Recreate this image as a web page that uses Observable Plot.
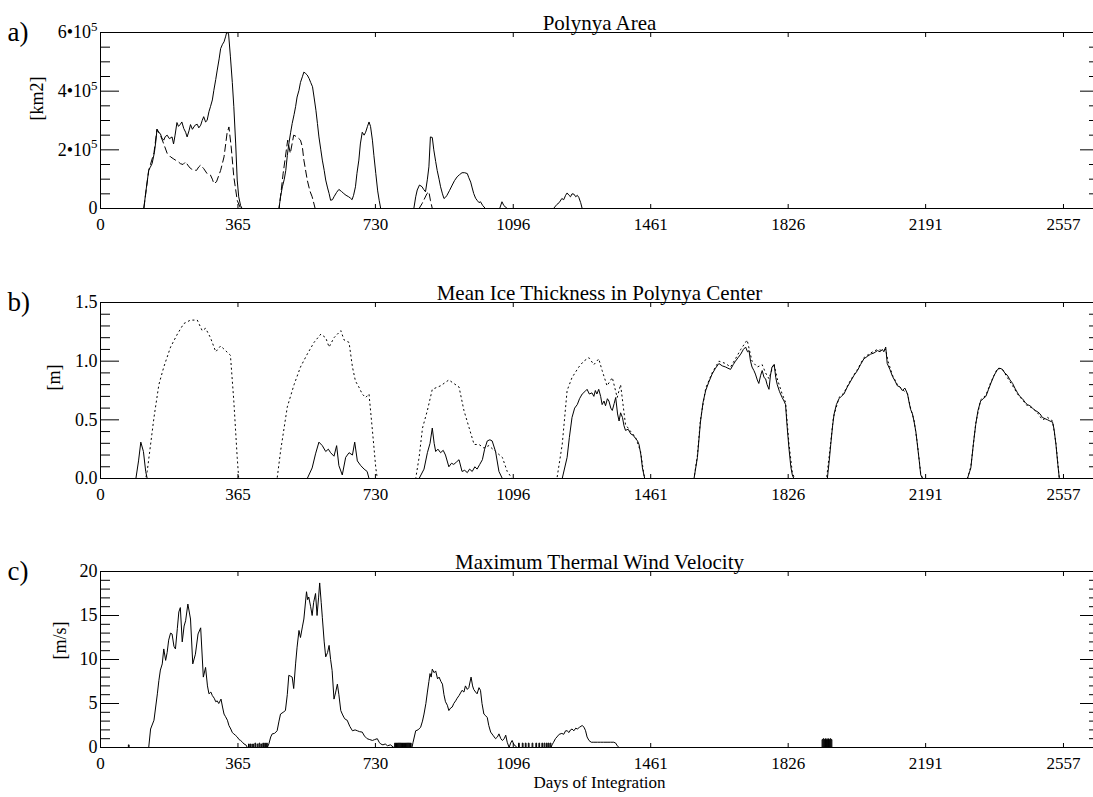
<!DOCTYPE html>
<html><head><meta charset="utf-8">
<script src="https://cdn.jsdelivr.net/npm/d3@7"></script>
<script src="https://cdn.jsdelivr.net/npm/@observablehq/plot@0.6"></script>
<style>
html,body{margin:0;padding:0;background:#fff;overflow:hidden;}
#chart{position:relative;width:1093px;height:797px;background:#fff;}
#chart svg{position:absolute;left:0;}
</style></head><body><div id="chart"></div>
<script>
// ---------- shared axis values ----------
const xTicks = [0, 365, 730, 1096, 1461, 1826, 2191, 2557];
const xLabel = "Days of Integration";

// ---------- panel a: Polynya Area (units of 10^5 km2) ----------
const titleA = "Polynya Area";
const letterA = "a)";
const yLabelA = "[km2]";
const yTicksA = [0, 2, 4, 6];
const yTickLabelsA = ["0", "2•10⁵", "4•10⁵", "6•10⁵"];
const yMinorA = [0.5, 1, 1.5, 2.5, 3, 3.5, 4.5, 5, 5.5];
const areaSolid = [[0,0],[115,0],[121,0.63],[128,1.3],[132,1.4],[137,1.53],[143,1.9],[147,2.3],[150,2.7],[154,2.6],[159,2.55],[163,2.4],[168,2.33],[172,2.45],[177,2.5],[183,2.38],[190,2.44],[194,2.2],[198,2.5],[203,2.93],[207,2.8],[212,2.87],[216,2.95],[221,2.73],[226,2.6],[230,2.44],[235,2.65],[239,2.86],[244,2.7],[248,2.78],[252,2.85],[257,2.87],[261,2.75],[266,2.84],[270,3.0],[274,3.13],[279,2.95],[283,3.0],[288,3.3],[292,3.47],[297,3.7],[301,4.03],[306,4.4],[310,4.72],[315,5.1],[319,5.45],[324,5.6],[328,5.68],[332,5.85],[335,6.0],[340,5.97],[345,5.17],[350,4.3],[354,3.47],[359,2.2],[363,0.97],[367,0.4],[372,0.1],[376,0],[474,0],[478,0.4],[483,0.74],[488,1.0],[492,1.3],[496,1.8],[500,2.2],[505,2.6],[509,2.9],[514,3.2],[518,3.47],[522,3.8],[527,4.03],[531,4.3],[536,4.49],[540,4.65],[545,4.6],[549,4.55],[554,4.43],[558,4.3],[563,4.15],[567,3.8],[572,3.35],[576,2.9],[580,2.44],[585,2.0],[589,1.65],[594,1.3],[598,0.97],[603,0.7],[607,0.51],[611,0.28],[616,0.3],[620,0.4],[627,0.55],[633,0.65],[640,0.58],[646,0.51],[652,0.45],[659,0.4],[664,0.35],[668,0.3],[672,0.45],[677,0.74],[681,1.2],[686,1.65],[690,2.2],[695,2.6],[700,2.5],[704,2.6],[709,2.8],[713,2.95],[717,2.8],[722,2.33],[726,1.8],[731,1.19],[736,0.6],[740,0.28],[744,0],[832,0],[837,0.4],[841,0.63],[847,0.8],[854,0.74],[858,0.65],[863,0.57],[868,1.0],[872,1.42],[876,2.44],[881,2.42],[885,2.0],[890,1.6],[894,1.3],[899,1.0],[903,0.74],[908,0.5],[912,0.34],[916,0.38],[920,0.45],[927,0.62],[934,0.8],[940,0.95],[947,1.08],[953,1.15],[960,1.22],[967,1.22],[974,1.19],[978,1.05],[983,0.9],[987,0.7],[991,0.51],[996,0.35],[1000,0.28],[1005,0.2],[1009,0.23],[1015,0.1],[1022,0],[1060,0],[1066,0.23],[1071,0.1],[1080,0],[1203,0],[1212,0.14],[1218,0.2],[1225,0.34],[1230,0.3],[1235,0.45],[1239,0.53],[1244,0.45],[1248,0.4],[1252,0.5],[1257,0.49],[1262,0.4],[1266,0.45],[1270,0.38],[1275,0.2],[1279,0],[2557,0]];
const areaDashed = [[0,0],[115,0],[121,0.6],[128,1.3],[142,1.9],[150,2.7],[159,2.5],[168,2.2],[177,1.88],[186,1.76],[193,1.7],[199,1.65],[206,1.6],[212,1.53],[219,1.5],[226,1.59],[235,1.42],[241,1.35],[248,1.31],[255,1.3],[261,1.42],[266,1.48],[274,1.36],[283,1.19],[292,1.14],[297,1.0],[301,0.85],[308,0.91],[319,1.3],[328,1.76],[336,2.56],[341,2.78],[347,2.1],[354,1.08],[363,0.28],[372,0],[474,0],[478,0.4],[485,1.2],[491,1.76],[497,2.33],[504,1.88],[513,2.5],[522,2.44],[531,2.33],[536,2.1],[540,1.65],[549,0.97],[556,0.6],[562,0.4],[570,0],[846,0],[854,0.17],[867,0.51],[872,0.57],[876,0.28],[881,0],[2557,0]];

// ---------- panel b: Mean Ice Thickness (m) ----------
const titleB = "Mean Ice Thickness in Polynya Center";
const letterB = "b)";
const yLabelB = "[m]";
const yTicksB = [0, 0.5, 1.0, 1.5];
const yTickLabelsB = ["0.0", "0.5", "1.0", "1.5"];
const yMinorB = [0.1, 0.2, 0.3, 0.4, 0.6, 0.7, 0.8, 0.9, 1.1, 1.2, 1.3, 1.4];
const iceSolid = [[0,0],[94,0],[101,0.15],[107,0.31],[114,0.23],[120,0.06],[124,0],[549,0],[562,0.09],[571,0.21],[580,0.31],[589,0.28],[598,0.23],[605,0.25],[611,0.22],[620,0.19],[627,0.28],[633,0.11],[642,0.03],[651,0.18],[660,0.22],[669,0.2],[675,0.31],[682,0.15],[691,0.11],[700,0.08],[708,0.06],[713,0],[846,0],[859,0.08],[868,0.22],[875,0.3],[881,0.43],[886,0.3],[890,0.23],[896,0.25],[903,0.22],[910,0.24],[916,0.2],[925,0.1],[932,0.13],[938,0.12],[945,0.14],[952,0.16],[960,0.06],[967,0.07],[974,0.05],[980,0.08],[987,0.06],[994,0.1],[1000,0.08],[1007,0.12],[1014,0.16],[1020,0.25],[1027,0.32],[1034,0.33],[1040,0.32],[1049,0.23],[1058,0.06],[1067,0],[1226,0],[1239,0.18],[1245,0.35],[1252,0.52],[1259,0.6],[1266,0.63],[1272,0.68],[1279,0.72],[1286,0.74],[1292,0.76],[1298,0.72],[1305,0.73],[1310,0.7],[1314,0.75],[1318,0.72],[1323,0.76],[1328,0.7],[1332,0.63],[1337,0.66],[1341,0.62],[1346,0.68],[1350,0.66],[1355,0.6],[1359,0.58],[1364,0.64],[1368,0.69],[1373,0.55],[1377,0.49],[1381,0.56],[1386,0.52],[1390,0.45],[1394,0.41],[1401,0.42],[1408,0.38],[1414,0.37],[1421,0.34],[1426,0.32],[1430,0.29],[1435,0.2],[1439,0.09],[1445,0],[1576,0],[1585,0.18],[1593,0.48],[1600,0.65],[1607,0.75],[1615,0.82],[1624,0.89],[1633,0.94],[1642,0.98],[1651,0.96],[1660,0.95],[1666,0.94],[1673,0.93],[1680,0.97],[1686,1.0],[1693,1.03],[1700,1.06],[1707,1.1],[1713,1.12],[1718,1.08],[1722,1.09],[1726,1.0],[1730,0.95],[1735,0.92],[1739,0.89],[1744,0.84],[1748,0.81],[1753,0.88],[1757,0.92],[1762,0.86],[1766,0.85],[1770,0.8],[1775,0.76],[1779,0.88],[1783,0.95],[1789,0.97],[1793,0.86],[1797,0.8],[1803,0.74],[1810,0.69],[1815,0.66],[1819,0.63],[1823,0.45],[1828,0.26],[1833,0.1],[1837,0.03],[1841,0],[1930,0],[1935,0.15],[1939,0.29],[1944,0.45],[1948,0.55],[1954,0.63],[1961,0.68],[1967,0.7],[1974,0.72],[1983,0.78],[1992,0.83],[2001,0.88],[2010,0.92],[2018,0.97],[2027,1.02],[2036,1.04],[2045,1.06],[2054,1.07],[2063,1.09],[2070,1.08],[2076,1.1],[2080,1.08],[2085,1.12],[2089,0.98],[2096,0.93],[2103,0.87],[2110,0.83],[2116,0.79],[2123,0.78],[2129,0.75],[2136,0.77],[2143,0.72],[2147,0.65],[2151,0.59],[2156,0.55],[2160,0.49],[2165,0.4],[2169,0.29],[2174,0.15],[2178,0.03],[2183,0],[2302,0],[2311,0.09],[2318,0.3],[2324,0.46],[2330,0.58],[2337,0.66],[2344,0.68],[2351,0.7],[2358,0.76],[2364,0.81],[2373,0.88],[2382,0.93],[2388,0.94],[2395,0.93],[2401,0.9],[2408,0.88],[2415,0.84],[2422,0.81],[2428,0.77],[2435,0.73],[2441,0.7],[2448,0.68],[2455,0.65],[2461,0.63],[2468,0.62],[2475,0.6],[2481,0.58],[2488,0.57],[2495,0.55],[2501,0.52],[2508,0.51],[2515,0.5],[2521,0.49],[2528,0.48],[2532,0.42],[2537,0.29],[2542,0.12],[2546,0],[2557,0]];
const iceDotted = [[0,0],[120,0],[124,0.06],[133,0.29],[142,0.52],[155,0.8],[168,0.95],[186,1.12],[204,1.23],[221,1.32],[239,1.35],[257,1.35],[270,1.26],[279,1.28],[292,1.2],[306,1.08],[319,1.13],[332,1.09],[345,1.05],[354,0.66],[363,0.18],[367,0],[469,0],[478,0.23],[496,0.61],[514,0.8],[531,0.95],[549,1.06],[567,1.16],[585,1.23],[598,1.2],[607,1.12],[620,1.2],[638,1.26],[647,1.18],[660,1.16],[669,0.95],[677,0.83],[686,0.78],[695,0.72],[704,0.69],[713,0.72],[722,0.41],[731,0.09],[735,0],[837,0],[846,0.18],[855,0.43],[868,0.58],[881,0.76],[903,0.79],[925,0.84],[938,0.81],[952,0.78],[965,0.58],[979,0.43],[992,0.29],[1005,0.29],[1018,0.26],[1031,0.28],[1049,0.23],[1067,0.18],[1080,0.06],[1093,0],[1212,0],[1226,0.29],[1239,0.75],[1252,0.86],[1270,0.95],[1283,1.0],[1297,1.03],[1310,0.97],[1323,1.02],[1332,0.92],[1345,0.79],[1359,0.86],[1372,0.69],[1381,0.8],[1394,0.46],[1408,0.4],[1421,0.35],[1434,0.23],[1443,0.03],[1447,0],[1576,0],[1585,0.2],[1593,0.5],[1607,0.77],[1624,0.9],[1642,1.0],[1660,0.98],[1673,0.95],[1686,1.02],[1700,1.1],[1717,1.18],[1730,1.0],[1744,0.95],[1757,0.97],[1766,0.9],[1775,0.85],[1788,0.98],[1797,0.85],[1810,0.72],[1819,0.65],[1828,0.3],[1837,0.05],[1843,0],[1928,0],[1937,0.25],[1946,0.52],[1961,0.69],[1974,0.73],[1992,0.84],[2010,0.93],[2027,1.03],[2045,1.07],[2063,1.1],[2076,1.09],[2085,1.1],[2091,1.0],[2103,0.88],[2116,0.8],[2129,0.76],[2143,0.72],[2151,0.6],[2160,0.5],[2169,0.3],[2178,0.04],[2183,0],[2302,0],[2311,0.1],[2324,0.47],[2337,0.67],[2351,0.71],[2364,0.82],[2382,0.94],[2395,0.93],[2408,0.86],[2422,0.79],[2435,0.72],[2448,0.67],[2461,0.62],[2475,0.6],[2488,0.56],[2501,0.5],[2515,0.52],[2528,0.49],[2537,0.3],[2546,0],[2557,0]];

// ---------- panel c: Maximum Thermal Wind Velocity (m/s) ----------
const titleC = "Maximum Thermal Wind Velocity";
const letterC = "c)";
const yLabelC = "[m/s]";
const yTicksC = [0, 5, 10, 15, 20];
const yTickLabelsC = ["0", "5", "10", "15", "20"];
const yMinorC = [1, 2, 3, 4, 6, 7, 8, 9, 11, 12, 13, 14, 16, 17, 18, 19];
const windSolid = [[0,0],[74,0],[74,0.3],[76,0.3],[76,0],[128,0],[133,2.1],[142,3.1],[151,6.1],[155,7.6],[159,8.8],[164,9.5],[168,11.2],[173,9.9],[177,10.8],[181,12.2],[186,13.0],[190,12.9],[195,11.5],[199,11.2],[204,13.5],[208,15.4],[212,15.9],[217,12.0],[222,13.8],[226,14.4],[232,16.3],[239,14.6],[245,9.5],[252,10.6],[259,12.9],[266,13.6],[273,8.0],[279,9.1],[284,7.0],[288,6.1],[293,6.3],[297,5.9],[302,5.6],[306,5.2],[310,5.3],[314,5.0],[320,5.5],[324,4.6],[328,3.8],[332,3.5],[337,3.1],[341,2.5],[346,2.1],[350,1.7],[354,1.55],[358,1.4],[363,1.2],[368,0.9],[372,0.8],[377,0.6],[381,0.4],[386,0.3],[390,0],
[393,0],[393,0.4],[395,0.4],[395,0],[398,0],[398,0.4],[400,0.4],[400,0],[404,0],[404,0.4],[406,0.4],[406,0],[410,0],[410,0.5],[412,0.5],[412,0],[416,0],[416,0.4],[418,0.4],[418,0],[421,0],[421,0.5],[423,0.5],[423,0],[426,0],[426,0.4],[428,0.4],[428,0],[431,0],[431,0.5],[433,0.5],[433,0],[436,0],[436,0.5],[438,0.5],[438,0],[441,0],[441,0.5],[443,0.5],[443,0],
[447,0.4],[452,1.2],[456,1.55],[462,1.6],[469,1.9],[474,3.0],[478,3.8],[485,4.0],[491,4.2],[496,6.0],[500,8.2],[505,8.1],[509,8.0],[513,6.7],[518,9.5],[522,11.4],[527,13.3],[531,12.5],[536,13.7],[540,14.6],[547,17.7],[550,16.8],[553,17.1],[558,16.0],[562,15.0],[566,16.5],[571,17.5],[575,15.0],[579,17.0],[582,18.7],[586,16.5],[589,14.8],[594,12.0],[598,10.3],[603,10.8],[607,11.6],[611,10.0],[615,8.75],[620,5.5],[624,6.2],[629,7.2],[633,6.0],[638,4.2],[642,3.8],[646,3.45],[650,3.2],[655,3.1],[662,2.4],[669,1.9],[676,2.0],[682,1.9],[688,1.8],[695,1.75],[701,1.3],[708,1.0],[715,0.9],[722,0.8],[728,0.9],[735,1.0],[740,0.6],[744,0.4],[750,0.3],[756,0.4],[762,0.2],[770,0.3],[779,0],
[781,0],[781,0.5],[783,0.5],[783,0],[784,0],[784,0.5],[786,0.5],[786,0],[787,0],[787,0.5],[789,0.5],[789,0],[790,0],[790,0.5],[792,0.5],[792,0],[793,0],[793,0.5],[795,0.5],[795,0],[796,0],[796,0.5],[798,0.5],[798,0],[799,0],[799,0.5],[801,0.5],[801,0],[802,0],[802,0.5],[804,0.5],[804,0],[805,0],[805,0.5],[807,0.5],[807,0],[808,0],[808,0.5],[810,0.5],[810,0],[811,0],[811,0.5],[813,0.5],[813,0],[814,0],[814,0.5],[816,0.5],[816,0],[817,0],[817,0.5],[819,0.5],[819,0],[820,0],[820,0.5],[822,0.5],[822,0],[823,0],[823,0.5],[825,0.5],[825,0],[827,0],
[830,0.6],[837,1.9],[843,2.0],[850,2.3],[855,3.0],[859,3.8],[864,5.0],[868,6.3],[872,7.5],[875,8.4],[878,8.0],[881,8.9],[886,8.5],[890,8.7],[895,7.8],[899,8.0],[904,7.5],[908,7.2],[912,6.0],[916,5.2],[921,4.8],[925,4.2],[930,4.5],[934,4.6],[938,5.0],[943,5.3],[947,5.6],[952,5.9],[956,6.2],[960,6.5],[965,6.3],[969,7.0],[974,6.6],[978,6.8],[984,8.0],[988,7.0],[991,6.6],[996,6.3],[1000,6.1],[1005,6.8],[1009,6.5],[1013,5.0],[1018,3.8],[1023,3.6],[1027,3.4],[1031,2.5],[1036,1.75],[1042,1.4],[1049,1.0],[1054,1.2],[1058,1.55],[1063,1.0],[1067,0.8],[1072,1.0],[1076,1.4],[1080,0.6],[1085,0],[1089,0.5],[1093,0.8],[1098,0.3],[1102,0.2],[1105,0],
[1110,0],[1110,0.5],[1112,0.5],[1112,0],[1120,0],[1120,0.5],[1122,0.5],[1122,0],[1128,0],[1128,0.5],[1130,0.5],[1130,0],[1136,0],[1136,0.5],[1138,0.5],[1138,0],[1146,0],[1146,0.5],[1148,0.5],[1148,0],[1156,0],[1156,0.5],[1158,0.5],[1158,0],[1164,0],[1164,0.5],[1166,0.5],[1166,0],[1172,0],[1172,0.5],[1174,0.5],[1174,0],[1178,0],[1178,0.5],[1180,0.5],[1180,0],[1184,0],[1184,0.5],[1186,0.5],[1186,0],[1189,0],[1189,0.5],[1191,0.5],[1191,0],[1194,0],[1194,0.5],[1196,0.5],[1196,0],
[1199,0.3],[1203,0.6],[1208,1.0],[1212,1.2],[1218,1.5],[1225,1.6],[1230,1.5],[1235,1.9],[1239,1.9],[1244,1.7],[1248,2.0],[1252,2.1],[1257,1.9],[1262,2.2],[1266,2.1],[1272,2.3],[1279,2.5],[1284,2.3],[1288,1.9],[1292,1.2],[1297,0.8],[1303,0.6],[1310,0.6],[1320,0.6],[1328,0.6],[1336,0.6],[1345,0.6],[1354,0.6],[1363,0.6],[1368,0.5],[1372,0.2],[1377,0],
[1916,0],[1916,0.9],[1918,0.9],[1918,0],[1919,0],[1919,1.0],[1921,1.0],[1921,0],[1922,0],[1922,0.9],[1924,0.9],[1924,0],[1925,0],[1925,1.0],[1927,1.0],[1927,0],[1928,0],[1928,0.9],[1930,0.9],[1930,0],[1931,0],[1931,1.0],[1933,1.0],[1933,0],[1934,0],[1934,0.9],[1936,0.9],[1936,0],[1937,0],[1937,1.0],[1939,1.0],[1939,0],[1940,0],[1940,0.9],[1942,0.9],[1942,0],[2557,0]];

// ---------- drawing ----------
const FONT = "'Liberation Serif', 'Times New Roman', serif";

function panel(o) {
  const lineMarks = o.series.map(s => Plot.line(s.data, {
    x: d => d[0], y: d => d[1], stroke: "black", strokeWidth: 1,
    strokeDasharray: s.dash, curve: "linear"
  }));
  const fmt = d => o.yLabels[o.yTicks.indexOf(d)];
  const marks = [
    ...lineMarks,
    Plot.frame({stroke: "black", strokeWidth: 1}),
    Plot.axisX({ticks: xTicks, anchor: "bottom", tickSize: -4, fill: "none", label: null}),
    Plot.axisX({ticks: xTicks, anchor: "top", tickSize: -4, fill: "none", label: null}),
    Plot.axisX({ticks: xTicks, anchor: "bottom", tickSize: 0, tickPadding: 9, fontSize: 17, label: null, tickFormat: d => String(d)}),
    Plot.axisY({ticks: o.yTicks, anchor: "left", tickSize: -19, fill: "none", label: null}),
    Plot.axisY({ticks: o.yMinor, anchor: "left", tickSize: -10, fill: "none", label: null}),
    Plot.axisY({ticks: o.yTicks, anchor: "right", tickSize: -19, fill: "none", label: null}),
    Plot.axisY({ticks: o.yMinor, anchor: "right", tickSize: -10, fill: "none", label: null}),
    Plot.axisY({ticks: o.yTicks, anchor: "left", tickSize: 0, tickPadding: 3, fontSize: 18, label: null, tickFormat: fmt}),
    Plot.text([o.title], {text: d => d, frameAnchor: "top", dy: -17, fontSize: 21}),
    Plot.text([o.letter], {text: d => d, frameAnchor: "top-left", dx: -93, dy: -11, textAnchor: "start", fontSize: 27}),
    Plot.text([o.yLabel], {text: d => d, frameAnchor: "left", dx: o.yLabelDx, rotate: -90, fontSize: 18})
  ];
  if (o.xLabel) marks.push(Plot.text([o.xLabel], {text: d => d, frameAnchor: "bottom", dy: 40, fontSize: 17}));
  const svg = Plot.plot({
    width: 1093, height: o.height,
    marginLeft: 100, marginRight: -5, marginTop: 32, marginBottom: o.marginBottom,
    x: {domain: [0, 2650]},
    y: {domain: o.yDomain},
    style: `font-family: ${FONT}; overflow: hidden; background: white; color: black;`,
    marks
  });
  svg.style.top = o.top + "px";
  // render superscript exponent in tick labels
  d3.select(svg).selectAll("text").each(function() {
    const t = this.textContent;
    const i = t.indexOf("⁵");
    if (i >= 0 && this.children.length === 0) {
      this.textContent = t.slice(0, i);
      d3.select(this).append("tspan").attr("dy", "-0.55em").attr("font-size", "0.72em").text("5");
    }
  });
  document.getElementById("chart").appendChild(svg);
}

panel({top: 0, height: 240, marginBottom: 32, yDomain: [0, 6], yTicks: yTicksA, yLabels: yTickLabelsA, yMinor: yMinorA,
  title: titleA, letter: letterA, yLabel: yLabelA, yLabelDx: -63,
  series: [{data: areaSolid, dash: null}, {data: areaDashed, dash: "7,4"}]});
panel({top: 270, height: 240, marginBottom: 32, yDomain: [0, 1.5], yTicks: yTicksB, yLabels: yTickLabelsB, yMinor: yMinorB,
  title: titleB, letter: letterB, yLabel: yLabelB, yLabelDx: -46,
  series: [{data: iceDotted, dash: "1.2,3.5"}, {data: iceSolid, dash: null}]});
panel({top: 539, height: 258, marginBottom: 50, yDomain: [0, 20], yTicks: yTicksC, yLabels: yTickLabelsC, yMinor: yMinorC,
  title: titleC, letter: letterC, yLabel: yLabelC, yLabelDx: -40, xLabel: xLabel,
  series: [{data: windSolid, dash: null}]});
</script></body></html>
